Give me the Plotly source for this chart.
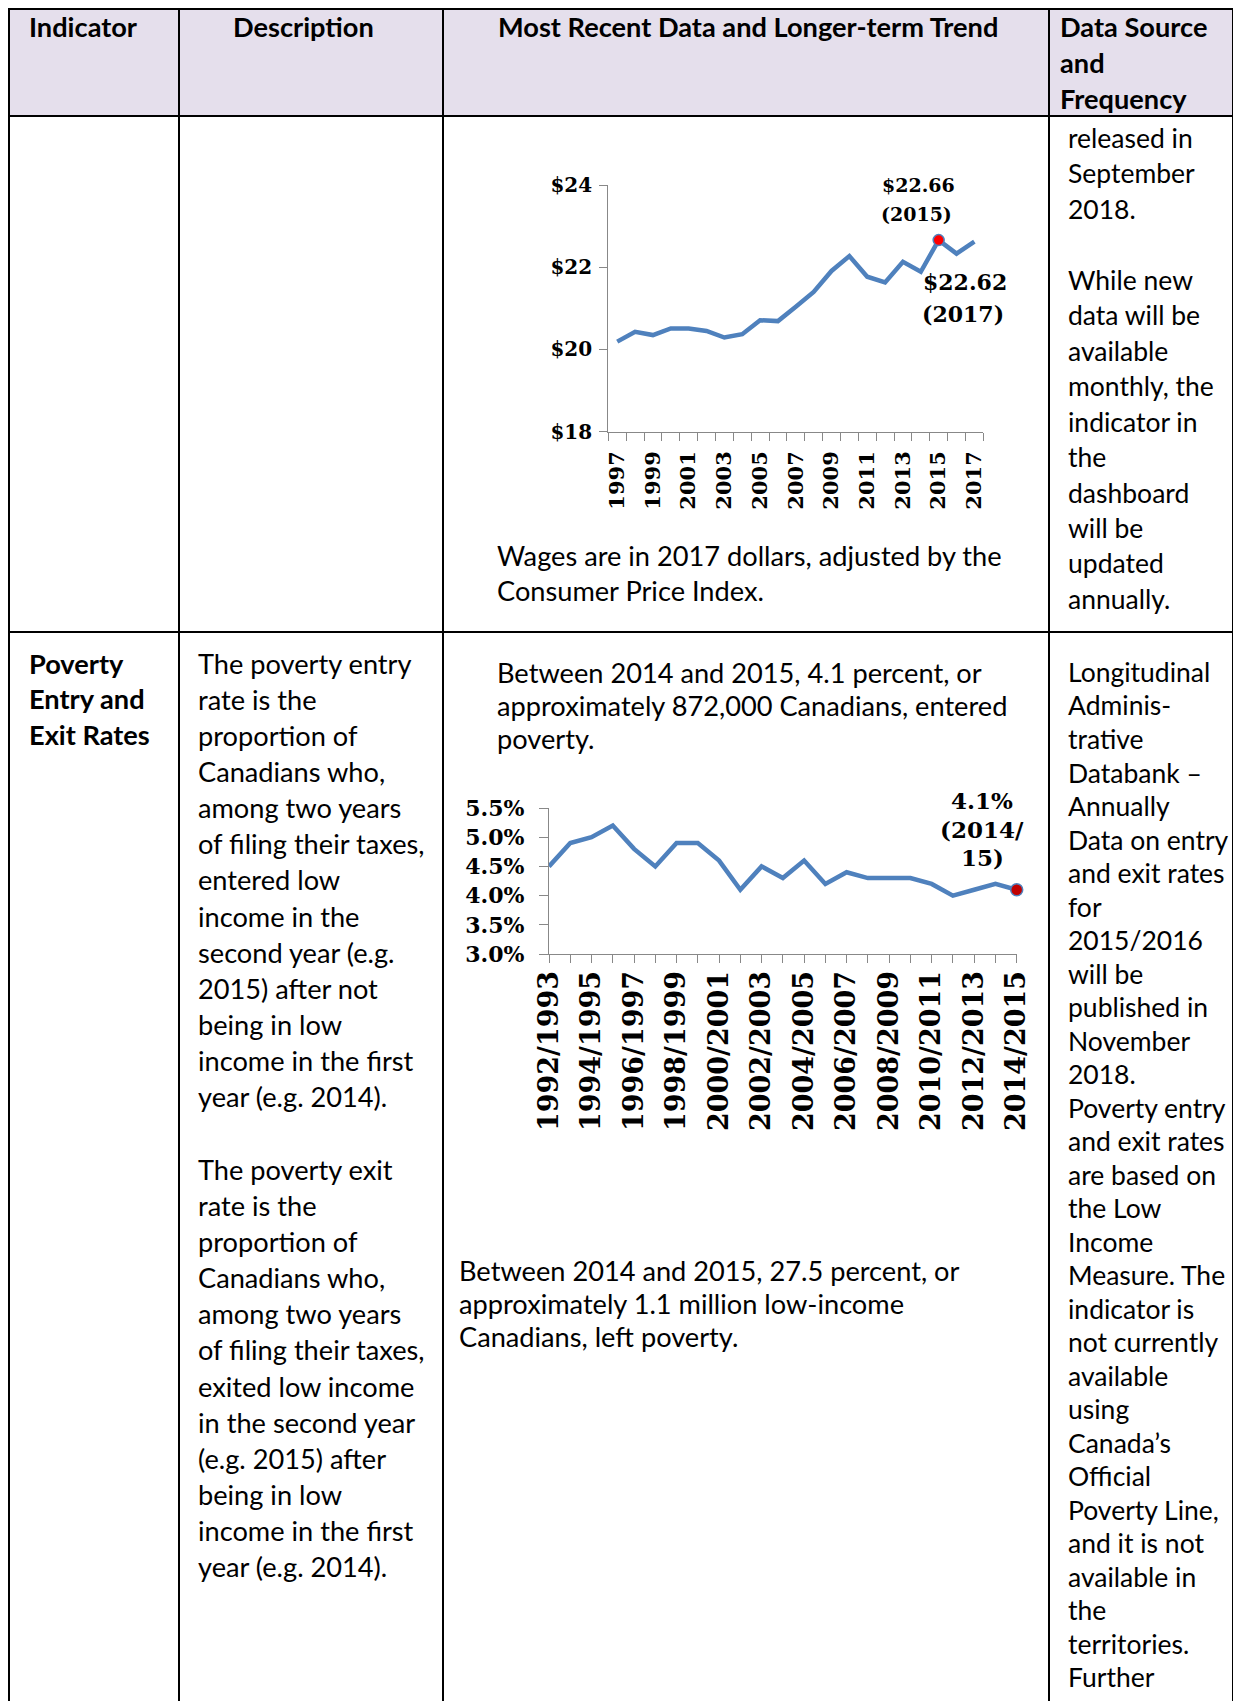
import plotly.graph_objects as go

# ---------------- data ----------------
years = list(range(1997, 2018))
wages = [20.19, 20.43, 20.35, 20.51, 20.51, 20.45, 20.29, 20.37, 20.71, 20.69,
         21.04, 21.40, 21.91, 22.27, 21.77, 21.63, 22.13, 21.89, 22.66, 22.33, 22.62]
wage_ticks = [18, 20, 22, 24]
wage_ticktext = ["$18", "$20", "$22", "$24"]

periods = [f"{y}/{y+1}" for y in range(1992, 2015)]
entry_rate = [4.5, 4.9, 5.0, 5.2, 4.8, 4.5, 4.9, 4.9, 4.6, 4.1, 4.5, 4.3,
              4.6, 4.2, 4.4, 4.3, 4.3, 4.3, 4.2, 4.0, 4.1, 4.2, 4.1]
rate_ticks = [3.0, 3.5, 4.0, 4.5, 5.0, 5.5]
rate_ticktext = ["3.0%", "3.5%", "4.0%", "4.5%", "5.0%", "5.5%"]

header = ["Indicator", "Description", "Most Recent Data and Longer-term Trend",
          "Data Source<br>and<br>Frequency"]
row1_col3 = ["Wages are in 2017 dollars, adjusted by the", "Consumer Price Index."]
row1_col4 = ["released in", "September", "2018.", "", "While new", "data will be",
             "available", "monthly, the", "indicator in", "the", "dashboard",
             "will be", "updated", "annually."]
row2_col1 = ["Poverty", "Entry and", "Exit Rates"]
row2_col2 = ["The poverty entry", "rate is the", "proportion of", "Canadians who,",
             "among two years", "of filing their taxes,", "entered low",
             "income in the", "second year (e.g.", "2015) after not", "being in low",
             "income in the first", "year (e.g. 2014).", "",
             "The poverty exit", "rate is the", "proportion of", "Canadians who,",
             "among two years", "of filing their taxes,", "exited low income",
             "in the second year", "(e.g. 2015) after", "being in low",
             "income in the first", "year (e.g. 2014)."]
row2_col3_top = ["Between 2014 and 2015, 4.1 percent, or",
                 "approximately 872,000 Canadians, entered", "poverty."]
row2_col3_bottom = ["Between 2014 and 2015, 27.5 percent, or",
                    "approximately 1.1 million low-income",
                    "Canadians, left poverty."]
row2_col4 = ["Longitudinal", "Adminis-", "trative", "Databank –", "Annually",
             "Data on entry", "and exit rates", "for", "2015/2016", "will be",
             "published in", "November", "2018.", "Poverty entry", "and exit rates",
             "are based on", "the Low", "Income", "Measure. The", "indicator is",
             "not currently", "available", "using", "Canada’s", "Official",
             "Poverty Line,", "and it is not", "available in", "the",
             "territories.", "Further"]

# ---------------- layout helpers ----------------
W, H = 1241, 1701
OFF = 8   # the page body margin shifts the figure by 8px; compensate
def X(px): return (px - OFF) / W
def Y(py): return 1 - (py - OFF) / H

BODY = "Lato"
SERIF = "DejaVu Serif"
BLUE = "#4F81BD"
AXC = "#888888"
FS = 27.2
FS4 = 26.5

fig = go.Figure()
annotations = []
shapes = []

def txt(x, y, s, size=FS, bold=False, anchor="left", family=BODY):
    if s == "":
        return
    annotations.append(dict(
        x=X(x), y=Y(y), xref="paper", yref="paper", text=s, showarrow=False,
        xanchor=anchor, yanchor="middle", align=anchor,
        font=dict(family=family, size=size, color="black",
                  weight="bold" if bold else "normal")))

def lines(x, y0, step, items, **kw):
    for i, s in enumerate(items):
        txt(x, y0 + i * step, s, **kw)

# ---------------- table grid ----------------
colx = [9, 179, 443, 1049, 1233]
top, head_b, row1_b = 9, 116, 632
shapes.append(dict(type="rect", xref="paper", yref="paper", x0=X(colx[0]), x1=X(colx[-1]),
                   y0=Y(head_b), y1=Y(top), fillcolor="#E5DFEC", line=dict(width=0),
                   layer="below"))
for yy in (top, head_b, row1_b):
    shapes.append(dict(type="line", xref="paper", yref="paper", x0=X(colx[0] - 1),
                       x1=X(colx[-1] + 1), y0=Y(yy), y1=Y(yy),
                       line=dict(color="black", width=2)))
for xx in colx:
    shapes.append(dict(type="line", xref="paper", yref="paper", x0=X(xx), x1=X(xx),
                       y0=Y(top), y1=Y(H + OFF), line=dict(color="black", width=2)))

# ---------------- header ----------------
txt(27, 26, header[0], bold=True)
txt(231, 26, header[1], bold=True)
txt(748, 26, header[2], bold=True, anchor="center")
lines(1058, 26, 36.3, header[3].split("<br>"), bold=True)

# ---------------- row 1 text ----------------
lines(495, 555, 35.8, row1_col3)
lines(1066, 138, 35.45, row1_col4, size=FS4)

# ---------------- row 2 text ----------------
lines(27, 663, 35.8, row2_col1, bold=True)
lines(196, 663, 36.15, row2_col2)
lines(495, 672, 33.1, row2_col3_top)
lines(457, 1270, 33.1, row2_col3_bottom)
lines(1066, 672, 33.5, row2_col4, size=FS4)

# ---------------- wage chart ----------------
fig.add_trace(go.Scatter(x=years, y=wages, mode="lines",
                         line=dict(color=BLUE, width=4.5), xaxis="x", yaxis="y",
                         showlegend=False, hoverinfo="skip"))
i15 = years.index(2015)
fig.add_trace(go.Scatter(x=[years[i15]], y=[wages[i15]], mode="markers",
                         marker=dict(color="#FF0000", size=11,
                                     line=dict(color=BLUE, width=1.5)),
                         xaxis="x", yaxis="y", showlegend=False, cliponaxis=False))
i17 = years.index(2017)
txt(918, 185, f"${wages[i15]:.2f}", size=19, bold=True, anchor="center", family=SERIF)
txt(916, 214, f"({years[i15]})", size=19, bold=True, anchor="center", family=SERIF)
txt(965, 282, f"${wages[i17]:.2f}", size=22, bold=True, anchor="center", family=SERIF)
txt(963, 314, f"({years[i17]})", size=22, bold=True, anchor="center", family=SERIF)

# ---------------- poverty entry chart ----------------
fig.add_trace(go.Scatter(x=periods, y=entry_rate, mode="lines",
                         line=dict(color=BLUE, width=4.5), xaxis="x2", yaxis="y2",
                         showlegend=False, hoverinfo="skip", cliponaxis=False))
fig.add_trace(go.Scatter(x=[periods[-1]], y=[entry_rate[-1]], mode="markers",
                         marker=dict(color="#C00000", size=12,
                                     line=dict(color=BLUE, width=1.5)),
                         xaxis="x2", yaxis="y2", showlegend=False, cliponaxis=False))
txt(982, 800, f"{entry_rate[-1]:.1f}%", size=23, bold=True, anchor="center", family=SERIF)
txt(982, 829, "(2014/", size=23, bold=True, anchor="center", family=SERIF)
txt(982, 857, "15)", size=23, bold=True, anchor="center", family=SERIF)

axis_common = dict(showline=True, linecolor=AXC, linewidth=1.3, showgrid=False,
                   zeroline=False, tickcolor=AXC, fixedrange=True, automargin=False)

fig.update_layout(
    width=W, height=H, autosize=False,
    margin=dict(l=0, r=0, t=0, b=0, pad=0, autoexpand=False),
    paper_bgcolor="white", plot_bgcolor="rgba(0,0,0,0)",
    showlegend=False,
    xaxis=dict(domain=[X(608.3), X(983.3)], range=[1996.5, 2017.5], anchor="y",
               tickmode="array", tickvals=years[::2], ticktext=[str(y) for y in years[::2]],
               ticks="", tickangle=-90, ticklabelstandoff=10,
               tickfont=dict(family=SERIF, size=21, color="black", weight="bold"),
               minor=dict(tickmode="array", tickvals=[y - 0.5 for y in years] + [years[-1] + 0.5],
                          ticks="outside", ticklen=8, tickcolor=AXC, showgrid=False),
               **axis_common),
    yaxis=dict(domain=[Y(431.7), Y(185)], range=[18, 24], anchor="x",
               tickmode="array", tickvals=wage_ticks, ticktext=wage_ticktext,
               ticks="outside", ticklen=8, ticklabelstandoff=3,
               tickfont=dict(family=SERIF, size=20, color="black", weight="bold"),
               **axis_common),
    xaxis2=dict(domain=[X(549), X(1016.7)], range=[0, len(periods) - 1], anchor="y2",
                type="category", tickmode="array", tickvals=periods,
                ticktext=[p if i % 2 == 0 else "" for i, p in enumerate(periods)],
                ticks="outside", ticklen=8, tickangle=-90, ticklabelstandoff=-3,
                tickfont=dict(family=SERIF, size=27, color="black", weight="bold"),
                **axis_common),
    yaxis2=dict(domain=[Y(954), Y(808)], range=[3.0, 5.5], anchor="x2",
                tickmode="array", tickvals=rate_ticks, ticktext=rate_ticktext,
                ticks="outside", ticklen=9, ticklabelstandoff=10,
                tickfont=dict(family=SERIF, size=22, color="black", weight="bold"),
                **axis_common),
    annotations=annotations,
    shapes=shapes,
)

fig.write_html("out.html")
